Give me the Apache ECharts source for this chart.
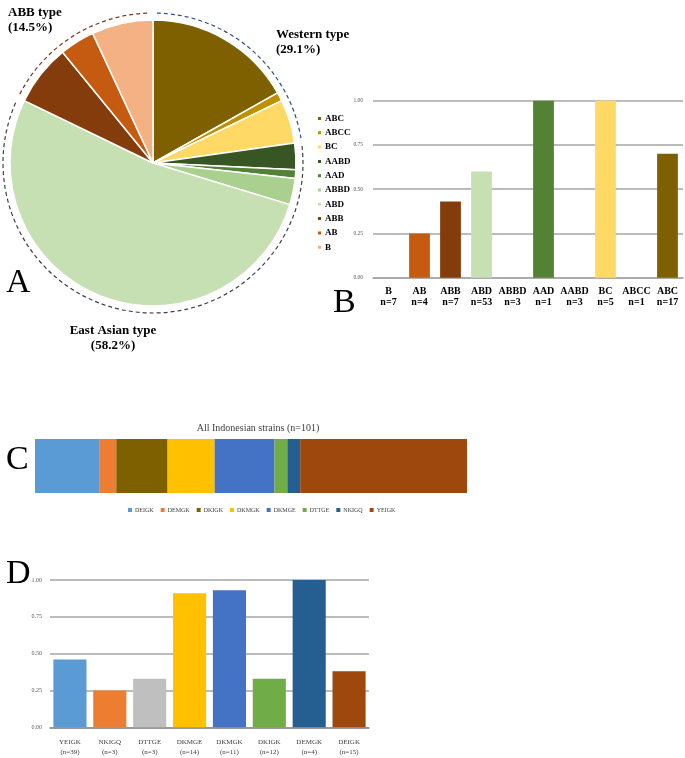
<!DOCTYPE html>
<html>
<head>
<meta charset="utf-8">
<script src="https://cdn.jsdelivr.net/npm/echarts@6/dist/echarts.min.js"></script>
<style>
    html, body { margin: 0; padding: 0; background: #fff; }
    #chart { width: 685px; height: 758px; }
</style>
</head>
<body>
<div id="chart"></div>
<script>
(function (window) {
    "use strict";

    // A: pie of all strains
    var pieNames = ['ABC', 'ABCC', 'BC', 'AABD', 'AAD', 'ABBD', 'ABD', 'ABB', 'AB', 'B'];
    var pieCounts = [17, 1, 5, 3, 1, 3, 53, 7, 4, 7];
    var pieColors = ['#7F6000', '#BF9000', '#FFD966', '#375623', '#548235', '#A9D08E', '#C6E0B4', '#843C0C', '#C55A11', '#F4B183'];

    // groups around the pie (dashed arcs)
    var groupLabels = ['Western type\n(29.1%)', 'East Asian type\n(58.2%)', 'ABB type\n(14.5%)'];
    var groupMembers = [['ABC', 'ABCC', 'BC'], ['AABD', 'AAD', 'ABBD', 'ABD'], ['ABB', 'AB', 'B']];
    var groupColors = ['#2F4F7F', '#404040', '#7A3B1E'];

    // B: ratio per type
    var barBNames = ['B', 'AB', 'ABB', 'ABD', 'ABBD', 'AAD', 'AABD', 'BC', 'ABCC', 'ABC'];
    var barBN = [7, 4, 7, 53, 3, 1, 3, 5, 1, 17];
    var barBValues = [0, 0.25, 0.43, 0.60, 0, 1.00, 0, 1.00, 0, 0.70];

    // C: all Indonesian strains
    var strainNames = ['DEIGK', 'DEMGK', 'DKIGK', 'DKMGK', 'DKMGE', 'DTTGE', 'NKIGQ', 'YEIGK'];
    var strainCounts = [15, 4, 12, 11, 14, 3, 3, 39];
    var strainColors = ['#5B9BD5', '#ED7D31', '#7F6000', '#FFC000', '#4472C4', '#70AD47', '#255E91', '#9E480E'];

    // D: ratio per strain
    var barDNames = ['YEIGK', 'NKIGQ', 'DTTGE', 'DKMGE', 'DKMGK', 'DKIGK', 'DEMGK', 'DEIGK'];
    var barDN = [39, 3, 3, 14, 11, 12, 4, 15];
    var barDValues = [0.46, 0.25, 0.33, 0.91, 0.93, 0.33, 1.00, 0.38];
    var barDColors = ['#5B9BD5', '#ED7D31', '#BFBFBF', '#FFC000', '#4472C4', '#70AD47', '#255E91', '#9E480E'];

    var serif = '"Liberation Serif", "DejaVu Serif", serif';
    var pieCenter = [153, 163];
    var pieRadius = 143;
    var arcRadius = 150;

    var total = pieCounts.reduce(function (a, b) { return a + b; }, 0);
    var colorOf = {};
    pieNames.forEach(function (n, i) { colorOf[n] = pieColors[i]; });

    // start / end angle (degrees clockwise from 12 o'clock) for each group
    var arcs = [];
    var acc = 0;
    groupMembers.forEach(function (members, i) {
        var sum = 0;
        members.forEach(function (m) { sum += pieCounts[pieNames.indexOf(m)]; });
        arcs.push({
            start: acc / total * 360 + 1.5,
            end: (acc + sum) / total * 360 - 1.5,
            color: groupColors[i]
        });
        acc += sum;
    });

    var toRad = function (deg) {
        return (deg - 90) * Math.PI / 180;
    };

    var groupTitle = function (text, left, top, align) {
        return {
            text: text,
            left: left,
            top: top,
            textAlign: align || 'left',
            textStyle: { fontFamily: serif, fontSize: 13, fontWeight: 'bold', color: '#000', lineHeight: 15 }
        };
    };
    var panelLetter = function (text, left, top) {
        return {
            text: text,
            left: left,
            top: top,
            textStyle: { fontFamily: serif, fontSize: 34, fontWeight: 'normal', color: '#000' }
        };
    };

    var gridLine = { show: true, lineStyle: { color: '#A6A6A6', width: 1.5 } };

    var myChart = echarts.init(document.getElementById('chart'));
    var option = {
        animation: false,
        backgroundColor: '#fff',
        title: [
            groupTitle(groupLabels[2], 3, 0),
            groupTitle(groupLabels[0], 271, 22),
            groupTitle(groupLabels[1], 108, 318, 'center'),
            panelLetter('A', 1, 261),
            panelLetter('B', 328, 281),
            panelLetter('C', 1, 438),
            panelLetter('D', 1, 552),
            {
                text: 'All Indonesian strains (n=101)',
                left: 253,
                top: 418,
                textAlign: 'center',
                textStyle: { fontFamily: serif, fontSize: 10, fontWeight: 'normal', color: '#404040' }
            }
        ],
        legend: [
            {
                data: pieNames,
                orient: 'vertical',
                left: 311,
                top: 108,
                icon: 'rect',
                itemWidth: 5,
                itemHeight: 5,
                itemGap: 3.3,
                selectedMode: false,
                textStyle: { fontFamily: serif, fontSize: 9, fontWeight: 'bold', color: '#000', lineHeight: 11, padding: [0, 0, 0, -2] }
            },
            {
                data: strainNames,
                orient: 'horizontal',
                left: 123,
                top: 502,
                icon: 'rect',
                itemWidth: 4,
                itemHeight: 4,
                itemGap: 7,
                selectedMode: false,
                textStyle: { fontFamily: serif, fontSize: 6, color: '#404040', padding: [0, 0, 0, -2] }
            }
        ],
        grid: [
            { left: 373, right: 2, top: 100.7, bottom: 480.3 },
            { left: 35, width: 432, top: 439, height: 54 },
            { left: 50, width: 319, top: 580, bottom: 30.7 }
        ],
        xAxis: [
            {
                gridIndex: 0,
                type: 'category',
                data: barBNames,
                axisTick: { show: false },
                axisLine: { show: true, lineStyle: { color: '#A6A6A6', width: 1.5 } },
                axisLabel: {
                    margin: 8,
                    interval: 0,
                    fontFamily: serif,
                    fontSize: 10,
                    fontWeight: 'bold',
                    color: '#000',
                    lineHeight: 11,
                    formatter: function (value, idx) {
                        return value + '\nn=' + barBN[idx];
                    }
                }
            },
            {
                gridIndex: 1,
                type: 'value',
                min: 0,
                max: total,
                show: false
            },
            {
                gridIndex: 2,
                type: 'category',
                data: barDNames,
                axisTick: { show: false },
                axisLine: { show: true, lineStyle: { color: '#8C8C8C', width: 1.5 } },
                axisLabel: {
                    margin: 10,
                    interval: 0,
                    fontFamily: serif,
                    fontSize: 7,
                    color: '#404040',
                    lineHeight: 10,
                    formatter: function (value, idx) {
                        return value + '\n(n=' + barDN[idx] + ')';
                    }
                }
            }
        ],
        yAxis: [
            {
                gridIndex: 0,
                type: 'value',
                min: 0,
                max: 1,
                interval: 0.25,
                axisLine: { show: false },
                axisTick: { show: false },
                splitLine: gridLine,
                axisLabel: {
                    margin: 10,
                    fontFamily: serif,
                    fontSize: 5.5,
                    color: '#595959',
                    formatter: function (v) { return v.toFixed(2); }
                }
            },
            {
                gridIndex: 1,
                type: 'category',
                data: ['All'],
                show: false
            },
            {
                gridIndex: 2,
                type: 'value',
                min: 0,
                max: 1,
                interval: 0.25,
                axisLine: { show: false },
                axisTick: { show: false },
                splitLine: gridLine,
                axisLabel: {
                    margin: 8,
                    fontFamily: serif,
                    fontSize: 6,
                    color: '#595959',
                    formatter: function (v) { return v.toFixed(2); }
                }
            }
        ],
        series: [
            {
                name: 'types',
                type: 'pie',
                center: pieCenter,
                radius: pieRadius,
                startAngle: 90,
                clockwise: true,
                label: { show: false },
                labelLine: { show: false },
                emphasis: { disabled: true },
                itemStyle: { borderColor: '#fff', borderWidth: 1.5 },
                data: pieNames.map(function (n, i) {
                    return { name: n, value: pieCounts[i], itemStyle: { color: pieColors[i] } };
                })
            },
            {
                name: 'groups',
                type: 'custom',
                coordinateSystem: 'none',
                silent: true,
                data: arcs.map(function (a, i) { return [i]; }),
                renderItem: function (params) {
                    var a = arcs[params.dataIndex];
                    return {
                        type: 'arc',
                        shape: {
                            cx: pieCenter[0],
                            cy: pieCenter[1],
                            r: arcRadius,
                            startAngle: toRad(a.start),
                            endAngle: toRad(a.end),
                            clockwise: true
                        },
                        style: { stroke: a.color, fill: null, lineWidth: 1.2, lineDash: [4, 3] }
                    };
                }
            },
            {
                name: 'ratio B',
                type: 'bar',
                xAxisIndex: 0,
                yAxisIndex: 0,
                barCategoryGap: '33%',
                data: barBValues.map(function (v, i) {
                    return { value: v, itemStyle: { color: colorOf[barBNames[i]] } };
                })
            }
        ].concat(strainNames.map(function (n, i) {
            return {
                name: n,
                type: 'bar',
                xAxisIndex: 1,
                yAxisIndex: 1,
                stack: 'all',
                barWidth: 54,
                itemStyle: { color: strainColors[i] },
                data: [strainCounts[i]]
            };
        })).concat([
            {
                name: 'ratio D',
                type: 'bar',
                xAxisIndex: 2,
                yAxisIndex: 2,
                barCategoryGap: '17%',
                data: barDValues.map(function (v, i) {
                    return { value: v, itemStyle: { color: barDColors[i] } };
                })
            }
        ])
    };
    myChart.setOption(option);

})(window);
</script>
</body>
</html>
